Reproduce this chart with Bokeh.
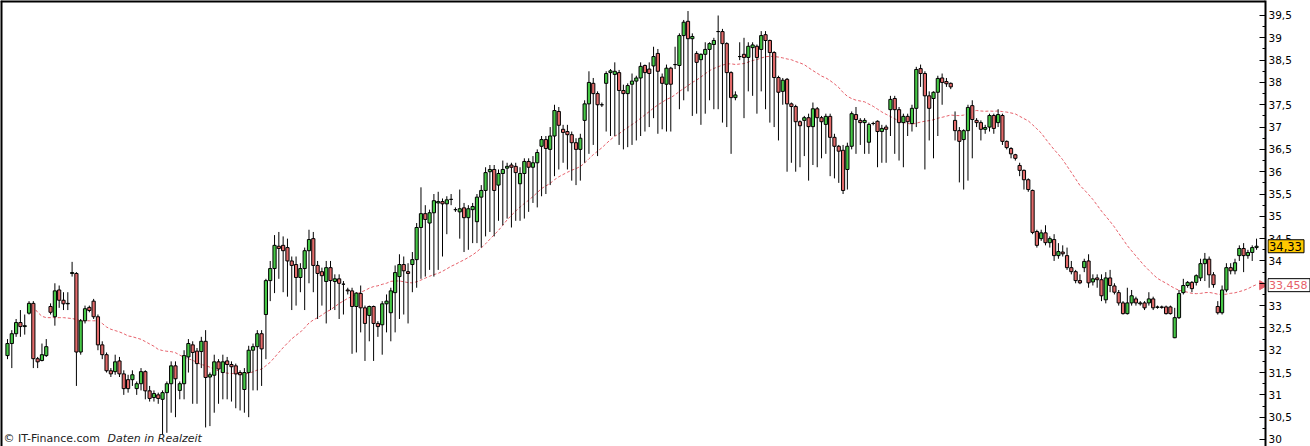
import math
from bokeh.plotting import figure
from bokeh.layouts import row
from bokeh.models import (Range1d, LinearAxis, FixedTicker, Label, Span, ColumnDataSource,
                          CustomJSTickFormatter)
from bokeh.embed import file_html
from bokeh.resources import INLINE
from bokeh.core.properties import value

# ---------------- data ----------------
opens = [
    31.88, 32.15, 32.37, 32.62, 32.53, 32.83, 33.05, 31.81, 31.77, 31.88,
    32.98, 32.75, 33.35, 33.12, 33.04, 33.72, 33.72, 31.96, 32.66, 32.96,
    33.10, 32.75, 32.12, 31.90, 31.54, 31.52, 31.76, 31.47, 31.34, 31.34,
    31.14, 31.25, 31.52, 31.09, 30.94, 31.00, 30.90, 31.05, 31.25, 31.65,
    31.10, 31.25, 31.85, 32.12, 31.98, 31.97, 32.20, 31.40, 31.44, 31.74,
    31.50, 31.76, 31.68, 31.65, 31.50, 31.12, 31.50, 32.00, 32.08, 32.37,
    32.80, 33.56, 33.83, 34.33, 34.35, 34.30, 34.00, 33.92, 33.63, 33.83,
    34.23, 34.50, 33.90, 33.76, 33.54, 33.85, 33.54, 33.60, 33.48, 33.35,
    33.33, 32.98, 33.27, 32.95, 32.78, 32.98, 32.60, 32.57, 33.04, 32.84,
    33.29, 33.65, 33.92, 33.76, 33.92, 34.03, 34.75, 35.06, 34.85, 35.08,
    35.30, 35.33, 35.28, 35.38, 35.15, 35.10, 35.19, 34.97, 35.15, 34.88,
    35.43, 35.58, 36.00, 36.05, 35.70, 35.96, 36.08, 36.15, 36.12, 35.73,
    35.96, 36.23, 36.10, 36.20, 36.57, 36.72, 36.50, 36.80, 37.35, 36.95,
    36.90, 36.83, 36.65, 36.50, 37.15, 37.52, 37.98, 37.75, 37.50, 37.98,
    38.22, 38.18, 38.22, 37.82, 37.75, 37.96, 38.03, 38.10, 38.38, 38.30,
    38.37, 38.65, 38.12, 37.96, 38.32, 38.40, 38.38, 39.05, 39.37, 38.98,
    38.65, 38.51, 38.63, 38.74, 38.85, 39.14, 39.14, 38.87, 38.22, 37.66,
    38.58, 38.63, 38.56, 38.78, 38.81, 38.74, 39.07, 38.94, 38.67, 38.11,
    37.80, 38.07, 37.52, 37.46, 37.12, 37.15, 37.21, 37.01, 37.41, 37.21,
    37.06, 37.24, 36.77, 36.57, 36.48, 36.05, 36.57, 37.28, 37.15, 37.10,
    36.66, 37.08, 37.13, 36.90, 37.00, 37.39, 37.64, 37.39, 37.10, 37.24,
    37.08, 37.42, 38.31, 38.20, 37.70, 37.64, 37.78, 38.10, 38.02, 37.98,
    37.15, 36.92, 36.72, 36.92, 37.48, 37.15, 37.10, 36.95, 37.00, 37.26,
    37.10, 37.26, 36.68, 36.52, 36.38, 36.14, 36.03, 35.82, 35.58, 34.66,
    34.50, 34.63, 34.41, 34.48, 34.12, 34.20, 34.12, 33.85, 33.76, 33.56,
    33.85, 34.00, 33.53, 33.62, 33.58, 33.13, 33.62, 33.44, 33.29, 33.06,
    32.82, 33.06, 33.15, 33.04, 33.06, 33.06, 33.15, 32.96, 32.97, 32.97,
    32.97, 32.28, 32.73, 33.29, 33.45, 33.52, 33.52, 33.62, 33.94, 34.04,
    33.69, 32.98, 32.84, 33.35, 33.85, 33.78, 34.12, 34.28, 34.12, 34.19, 34.30,
]
highs = [
    32.25, 32.45, 32.70, 32.90, 32.80, 33.10, 33.10, 31.85, 32.15, 32.25,
    33.05, 33.50, 33.45, 33.30, 33.30, 33.98, 33.75, 32.70, 33.00, 33.00,
    33.15, 32.80, 32.20, 31.95, 31.60, 31.90, 31.85, 31.55, 31.45, 31.55,
    31.30, 31.60, 31.55, 31.20, 31.10, 31.05, 31.10, 31.30, 31.75, 31.75,
    31.30, 32.00, 32.25, 32.20, 32.05, 32.30, 32.45, 31.50, 31.90, 31.80,
    31.90, 31.85, 31.75, 31.70, 31.55, 31.60, 32.10, 32.15, 32.45, 32.45,
    33.60, 34.00, 34.58, 34.65, 34.55, 34.50, 34.10, 34.10, 33.95, 34.30,
    34.70, 34.65, 34.00, 33.85, 34.00, 34.00, 33.70, 33.70, 33.55, 33.40,
    33.40, 33.30, 33.45, 33.00, 33.00, 33.00, 32.65, 33.10, 33.25, 33.40,
    33.90, 34.15, 34.10, 33.95, 34.20, 34.85, 35.65, 35.25, 35.15, 35.50,
    35.55, 35.40, 35.45, 35.50, 35.20, 35.60, 35.30, 35.25, 35.30, 35.50,
    35.70, 36.10, 36.15, 36.15, 36.05, 36.25, 36.20, 36.20, 36.20, 36.10,
    36.30, 36.30, 36.35, 36.50, 36.80, 36.80, 37.00, 37.50, 37.45, 37.05,
    37.05, 36.90, 36.75, 36.85, 37.60, 38.25, 38.10, 37.80, 37.55, 38.25,
    38.30, 38.45, 38.28, 37.95, 37.98, 38.20, 38.15, 38.45, 38.40, 38.45,
    38.80, 38.75, 38.20, 38.40, 38.35, 38.80, 39.10, 39.40, 39.60, 39.10,
    38.70, 38.65, 38.90, 38.90, 39.00, 39.50, 39.20, 38.90, 38.25, 37.80,
    38.90, 39.00, 38.90, 38.90, 38.85, 39.15, 39.15, 38.96, 38.70, 38.15,
    38.10, 38.10, 37.55, 37.50, 37.15, 37.25, 37.30, 37.55, 37.45, 37.25,
    37.30, 37.30, 36.85, 36.60, 36.60, 36.65, 37.35, 37.45, 37.20, 37.20,
    37.10, 37.12, 37.15, 37.05, 37.05, 37.70, 37.70, 37.45, 37.30, 37.30,
    37.50, 38.35, 38.40, 38.25, 37.80, 37.80, 38.15, 38.20, 38.10, 38.00,
    37.35, 37.00, 36.95, 37.50, 37.60, 37.20, 37.15, 37.05, 37.30, 37.30,
    37.40, 37.30, 36.70, 36.55, 36.40, 36.20, 36.05, 35.85, 35.60, 34.70,
    34.70, 34.80, 34.55, 34.60, 34.40, 34.35, 34.30, 34.00, 33.80, 33.70,
    34.05, 34.15, 33.70, 33.70, 33.70, 33.75, 33.80, 33.50, 33.35, 33.10,
    33.40, 33.35, 33.20, 33.10, 33.10, 33.30, 33.20, 33.00, 33.00, 33.00,
    33.00, 32.95, 33.35, 33.60, 33.55, 33.55, 33.70, 34.05, 34.18, 34.10,
    33.75, 33.10, 33.45, 33.95, 33.95, 34.05, 34.35, 34.40, 34.25, 34.35, 34.50,
]
lows = [
    31.80, 31.60, 32.30, 32.30, 32.35, 32.80, 31.60, 31.60, 31.75, 31.85,
    32.80, 32.55, 32.95, 32.90, 32.90, 33.65, 31.20, 31.90, 32.60, 32.85,
    32.70, 32.00, 31.80, 31.50, 31.40, 31.45, 31.40, 31.00, 31.05, 31.20,
    31.00, 31.10, 30.90, 30.85, 30.85, 30.80, 30.10, 30.15, 30.60, 30.50,
    30.90, 30.90, 31.50, 30.80, 30.80, 31.60, 30.27, 30.30, 30.60, 30.80,
    30.90, 30.90, 30.85, 30.70, 30.65, 30.60, 30.50, 31.10, 31.10, 31.20,
    31.80, 33.10, 33.28, 33.60, 33.30, 33.20, 32.90, 33.00, 33.30, 32.90,
    33.50, 33.30, 32.70, 33.00, 32.60, 32.90, 32.90, 32.70, 32.80, 33.25,
    31.92, 31.95, 32.40, 31.76, 32.20, 31.76, 32.30, 31.90, 32.40, 32.20,
    32.40, 32.70, 32.80, 32.60, 33.30, 33.40, 33.60, 33.65, 33.80, 33.65,
    33.80, 34.10, 34.60, 35.25, 35.10, 34.50, 34.20, 34.25, 34.40, 34.40,
    34.30, 34.55, 34.65, 34.55, 34.90, 34.80, 34.95, 34.75, 34.90, 34.90,
    34.95, 35.10, 35.30, 35.20, 35.45, 35.50, 35.70, 35.90, 36.05, 36.20,
    36.05, 35.80, 35.70, 35.80, 36.20, 36.40, 36.60, 36.35, 37.45, 36.90,
    36.80, 36.80, 36.60, 36.50, 36.55, 36.60, 36.70, 36.80, 36.90, 37.00,
    37.20, 36.85, 36.95, 36.90, 36.90, 38.30, 37.40, 37.60, 37.80, 37.25,
    37.30, 37.05, 37.30, 37.60, 37.40, 37.40, 37.10, 37.00, 36.40, 37.60,
    38.50, 37.20, 37.80, 37.70, 37.30, 37.80, 37.40, 37.10, 37.00, 36.70,
    37.50, 36.00, 36.20, 36.00, 36.10, 36.35, 35.80, 36.15, 36.10, 36.30,
    36.40, 35.90, 35.85, 35.75, 35.50, 35.60, 36.50, 36.40, 36.60, 36.40,
    36.40, 37.04, 36.10, 36.20, 36.20, 36.80, 36.40, 36.25, 36.10, 36.80,
    36.90, 37.00, 37.90, 36.05, 36.70, 36.30, 36.80, 37.50, 37.90, 37.85,
    36.70, 35.76, 35.60, 35.80, 36.30, 37.00, 36.70, 36.85, 36.90, 36.85,
    37.00, 36.60, 36.50, 36.30, 36.25, 35.90, 35.60, 35.55, 34.60, 34.30,
    34.45, 34.35, 34.30, 34.00, 34.05, 34.10, 33.80, 33.70, 33.50, 33.48,
    33.75, 33.40, 33.45, 33.40, 33.10, 33.05, 33.30, 33.25, 33.00, 32.80,
    32.80, 33.00, 33.00, 33.00, 32.90, 33.00, 32.90, 32.93, 32.93, 32.80,
    32.80, 32.27, 32.70, 33.25, 33.40, 33.30, 33.45, 33.55, 33.55, 33.40,
    33.40, 32.80, 32.80, 33.30, 33.70, 33.70, 34.00, 33.75, 34.05, 34.00, 34.25,
]
closes = [
    32.15, 32.37, 32.62, 32.53, 32.55, 33.05, 31.81, 31.74, 31.90, 32.08,
    32.85, 33.33, 33.12, 33.04, 33.05, 33.74, 31.96, 32.66, 32.93, 32.89,
    32.75, 32.12, 31.90, 31.54, 31.47, 31.74, 31.47, 31.14, 31.14, 31.45,
    31.25, 31.52, 31.09, 30.92, 31.03, 30.92, 31.05, 31.25, 31.65, 31.36,
    31.25, 31.88, 32.15, 31.95, 31.70, 32.20, 31.39, 31.45, 31.74, 31.58,
    31.74, 31.68, 31.63, 31.47, 31.45, 31.50, 32.00, 32.08, 32.37, 32.03,
    33.56, 33.83, 34.35, 34.28, 34.23, 34.00, 33.90, 33.63, 33.83, 34.23,
    34.48, 33.90, 33.72, 33.67, 33.85, 33.56, 33.60, 33.50, 33.48, 33.33,
    32.98, 33.28, 32.95, 32.60, 32.98, 32.60, 32.53, 33.04, 33.10, 33.33,
    33.74, 33.92, 33.78, 33.72, 34.03, 34.75, 35.06, 34.93, 35.08, 35.35,
    35.33, 35.28, 35.37, 35.38, 35.15, 35.17, 34.97, 35.17, 35.22, 35.43,
    35.58, 35.98, 36.05, 35.58, 35.96, 36.05, 36.12, 36.10, 35.98, 35.96,
    36.23, 36.10, 36.20, 36.43, 36.72, 36.52, 36.80, 37.37, 37.04, 36.88,
    36.83, 36.65, 36.50, 36.75, 37.52, 38.00, 37.75, 37.50, 37.50, 38.20,
    38.26, 38.25, 37.82, 37.75, 37.93, 38.03, 38.10, 38.36, 38.22, 38.20,
    38.58, 38.25, 37.98, 38.32, 37.96, 38.40, 39.05, 39.35, 38.98, 39.03,
    38.45, 38.63, 38.74, 38.87, 38.94, 39.14, 38.87, 38.22, 37.66, 37.72,
    38.58, 38.56, 38.81, 38.84, 38.56, 39.05, 38.94, 38.67, 38.11, 37.78,
    38.05, 37.52, 37.46, 37.12, 37.03, 37.21, 37.01, 37.41, 37.21, 37.12,
    37.24, 36.77, 36.57, 36.46, 35.58, 36.57, 37.30, 37.17, 37.10, 37.15,
    37.06, 37.08, 36.90, 36.97, 36.95, 37.62, 37.39, 37.10, 37.24, 37.12,
    37.42, 38.29, 38.20, 37.70, 37.42, 37.78, 38.09, 38.00, 37.97, 37.90,
    36.92, 36.68, 36.92, 37.44, 37.17, 37.10, 36.95, 36.99, 37.26, 36.97,
    37.28, 36.68, 36.54, 36.40, 36.30, 36.03, 35.82, 35.60, 34.64, 34.35,
    34.63, 34.41, 34.50, 34.12, 34.21, 34.16, 33.85, 33.76, 33.56, 33.51,
    33.99, 33.51, 33.60, 33.58, 33.22, 33.62, 33.45, 33.30, 33.06, 32.82,
    33.06, 33.22, 33.06, 33.06, 32.95, 33.15, 32.95, 32.97, 32.96, 32.82,
    32.82, 32.73, 33.27, 33.45, 33.52, 33.38, 33.67, 33.94, 34.04, 33.69,
    33.47, 32.84, 33.35, 33.85, 33.78, 33.96, 34.28, 34.12, 34.19, 34.30, 34.33,
]
# moving average as drawn before 30 closes are available
ma_start = 5
ma_head = [33.07, 32.97, 32.85, 32.76, 32.73, 32.73, 32.73, 32.73, 32.73, 32.72,
           32.71, 32.69, 32.66, 32.66, 32.66, 32.66, 32.66, 32.60, 32.52, 32.47,
           32.44, 32.41, 32.37, 32.32]
ma_period = 30

tick_values = [30.0, 30.5, 31.0, 31.5, 32.0, 32.5, 33.0, 33.5, 34.0, 34.5,
               35.0, 35.5, 36.0, 36.5, 37.0, 37.5, 38.0, 38.5, 39.0, 39.5]
tick_labels = ["30", "30,5", "31", "31,5", "32", "32,5", "33", "33,5", "34", "34,5",
               "35", "35,5", "36", "36,5", "37", "37,5", "38", "38,5", "39", "39,5"]
minor_tick_values = [29.75, 30.25, 30.75, 31.25, 31.75, 32.25, 32.75, 33.25, 33.75, 34.25,
                     34.75, 35.25, 35.75, 36.25, 36.75, 37.25, 37.75, 38.25, 38.75, 39.25]
last_price = 34.33
last_price_label = "34,33"
ma_last = 33.458
ma_last_label = "33,458"
credit_1 = "© IT-Finance.com"
credit_2 = "Daten in Realzeit"

# ---------------- styles ----------------
UP = "#46c846"
DOWN = "#e26a6a"
MA_COLOR = "#e6606a"
FONT = "DejaVu Sans"
H = 446

n = len(closes)
idx = list(range(n))

ma = [float("nan")] * n
for k, v in enumerate(ma_head):
    ma[ma_start + k] = v
for i in range(ma_period - 1, n):
    ma[i] = sum(closes[i - ma_period + 1:i + 1]) / ma_period

src = ColumnDataSource(dict(
    x=idx,
    top=[max(o, c) for o, c in zip(opens, closes)],
    bottom=[min(o, c) for o, c in zip(opens, closes)],
    high=highs,
    low=lows,
    color=[UP if c >= o else DOWN for o, c in zip(opens, closes)],
))

yr = Range1d(29.843, 39.836)
x0, x1 = -1.625, 292.08

# ---- main chart (frame ends at the price axis line) ----
p = figure(width=1267, height=H, output_backend="svg", toolbar_location=None,
           x_range=Range1d(x0, x1), y_range=yr,
           x_axis_location=None, y_axis_location=None,
           min_border_left=0, min_border_right=2, min_border_top=0, min_border_bottom=0)
p.grid.visible = False
p.outline_line_color = None
p.background_fill_color = "white"
p.border_fill_color = "white"

p.line(idx, ma, line_color=MA_COLOR, line_width=1, line_dash="3 2")
p.segment(x0="x", y0="low", x1="x", y1="high", source=src, line_color="black", line_width=1)
p.vbar(x="x", top="top", bottom="bottom", width=0.74, source=src,
       fill_color="color", line_color="black", line_width=1)

ax = LinearAxis(ticker=FixedTicker(ticks=tick_values, minor_ticks=minor_tick_values),
                formatter=CustomJSTickFormatter(code="return ''"))
ax.axis_line_color = "black"
ax.axis_line_width = 2
ax.major_tick_in = 6
ax.major_tick_out = 0
ax.minor_tick_in = 3
ax.minor_tick_out = 0
ax.major_tick_line_color = "black"
ax.minor_tick_line_color = "black"
ax.major_label_standoff = 0
p.add_layout(ax, "right")

p.add_layout(Span(location=yr.end, dimension="width", line_color="black", line_width=4))
p.add_layout(Span(location=x0, dimension="height", line_color="black", line_width=4))

p.scatter([x1 - 0.75], [ma_last], marker="triangle", angle=-math.pi / 2, size=9,
          fill_color=MA_COLOR, line_color=MA_COLOR)

p.add_layout(Label(x=3, y=2, x_units="screen", y_units="screen", text=credit_1,
                   text_font=FONT, text_font_size="11px", text_color="#222222",
                   text_baseline="bottom"))
p.add_layout(Label(x=107, y=2, x_units="screen", y_units="screen", text=credit_2,
                   text_font=FONT, text_font_size="11px", text_color="#222222",
                   text_font_style="italic", text_baseline="bottom"))

# ---- price scale labels to the right of the axis line ----
q = figure(width=43, height=H, output_backend="svg", toolbar_location=None,
           x_range=Range1d(0, 43), y_range=yr,
           x_axis_location=None, y_axis_location=None,
           min_border_left=0, min_border_right=0, min_border_top=0, min_border_bottom=0)
q.grid.visible = False
q.outline_line_color = None
q.background_fill_color = "white"
q.border_fill_color = "white"

q.text(x=1, y=tick_values, text=tick_labels, text_font=value(FONT), text_font_size="10.5px",
       text_color="black", text_baseline="middle", text_align="left")

q.rect(x=18.5, y=[last_price], width=36, height=13, height_units="screen",
       fill_color="#ffc800", line_color="black", line_width=1)
q.text(x=1.5, y=[last_price], text=[last_price_label], text_font=value(FONT),
       text_font_size="11.5px", text_color="black", text_baseline="middle", text_align="left")
q.rect(x=21.5, y=[ma_last], width=42, height=13, height_units="screen",
       fill_color="white", line_color="black", line_width=1)
q.text(x=1.5, y=[ma_last], text=[ma_last_label], text_font=value(FONT),
       text_font_size="11px", text_color=MA_COLOR, text_baseline="middle", text_align="left")

layout = row(p, q, spacing=0)
open("out.html", "w").write(file_html(layout, INLINE))
